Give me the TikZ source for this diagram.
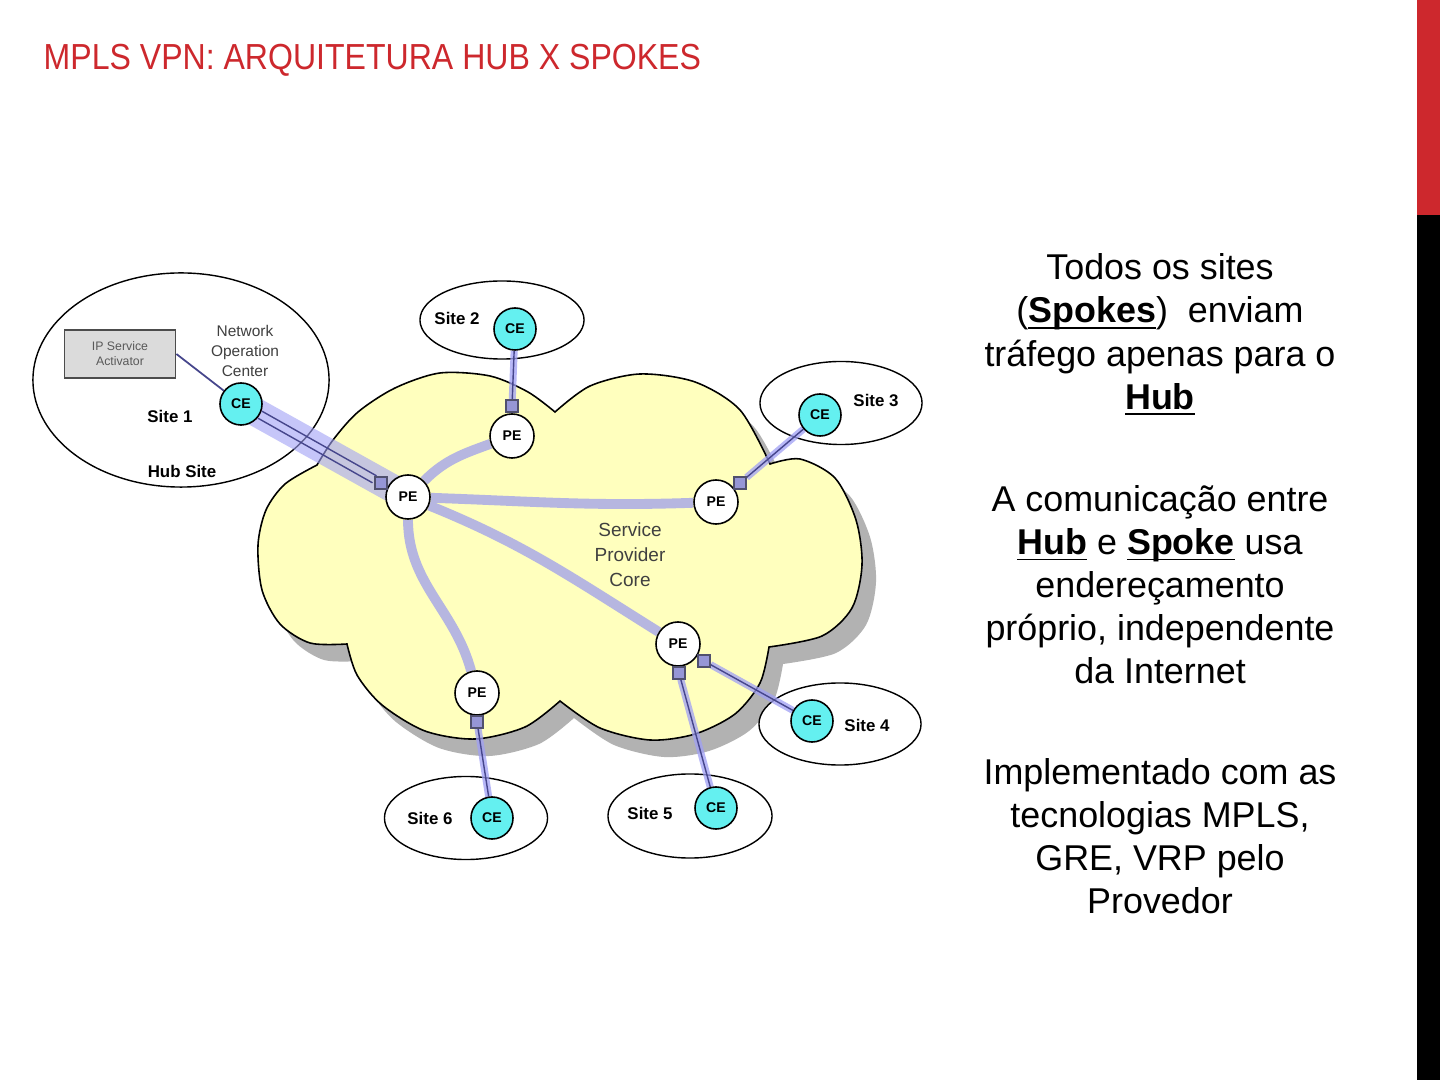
\documentclass[tikz,border=0pt]{standalone}
\usepackage{fontspec}
\setmainfont{Liberation Sans}
\newfontfamily\titlefont[FakeStretch=0.885]{Liberation Sans}
\usetikzlibrary{shapes.geometric,positioning}

\definecolor{titlered}{RGB}{205,40,45}
\definecolor{cloudyellow}{RGB}{255,255,190}
\definecolor{shadowgray}{RGB}{178,178,178}
\definecolor{coreblue}{RGB}{182,182,224}
\definecolor{glowblue}{RGB}{160,160,245}
\definecolor{linkdark}{RGB}{70,70,140}
\definecolor{cefill}{RGB}{100,240,240}
\definecolor{portfill}{RGB}{150,150,214}
\definecolor{portborder}{RGB}{80,80,110}

\pgfdeclarelayer{cloudlayer}
\pgfdeclarelayer{sitelayer}
\pgfdeclarelayer{linklayer}
\pgfsetlayers{cloudlayer,sitelayer,linklayer,main}

\newcommand{\ulword}[1]{\underline{\smash{\textbf{#1}}}}

\tikzset{
  ce/.style={circle, draw=black, line width=0.45pt, fill=cefill, minimum size=0.42cm, inner sep=0pt,
    font=\bfseries\fontsize{4}{4}\selectfont},
  pe/.style={circle, draw=black, line width=0.45pt, fill=white, minimum size=0.44cm, inner sep=0pt,
    font=\bfseries\fontsize{4}{4}\selectfont},
  port/.style={rectangle, draw=portborder, fill=portfill, minimum size=0.12cm, inner sep=0pt, line width=0.3pt},
  site/.style={ellipse, draw=black, fill=white, line width=0.4pt, inner sep=0pt},
  sitelabel/.style={font=\bfseries\fontsize{4.8}{5}\selectfont, inner sep=0pt},
  core/.style={draw=coreblue, line width=2.8pt},
  glow/.style={draw=glowblue, line width=2pt, opacity=0.75},
  band/.style={draw=glowblue, line width=8pt, opacity=0.6},
  access/.style={draw=linkdark, line width=0.4pt},
  bodytext/.style={align=center, font=\fontsize{10.2}{12.25}\selectfont, inner sep=0pt}
}

% cloud outline, in pixel units
\def\cloudpath{plot[smooth] coordinates {(317,-465) (333,-440) (358,-412) (395,-388) (440,-373) (490,-376) (528,-392) (555,-412)}
  -- plot[smooth] coordinates {(555,-412) (590,-386) (640,-374) (695,-382) (740,-410) (770,-464)}
  -- plot[smooth] coordinates {(770,-464) (800,-459) (835,-478) (856,-520) (862,-565) (852,-608) (822,-636) (769,-647)}
  -- plot[smooth] coordinates {(769,-647) (760,-683) (735,-714) (695,-734) (650,-740) (600,-728) (560,-701)}
  -- plot[smooth] coordinates {(560,-701) (525,-727) (475,-739) (425,-731) (382,-705) (357,-675) (347,-644)}
  -- plot[smooth] coordinates {(347,-644) (310,-643) (280,-624) (262,-590) (258,-545) (266,-510) (285,-484) (317,-465)}
  -- cycle}

\begin{document}
\begin{tikzpicture}[x=0.01cm, y=0.01cm]
  \useasboundingbox (0,0) rectangle (1440,-1080);

  % cloud
  \begin{pgfonlayer}{cloudlayer}
    \fill[white] (0,0) rectangle (1440,-1080);
    \fill[shadowgray, shift={(14,-17)}] \cloudpath;
    \filldraw[fill=cloudyellow, draw=black, line width=0.45pt] \cloudpath;
  \end{pgfonlayer}

  % side bar
  \fill[titlered] (1417,0) rectangle (1440,-215);
  \fill[black] (1417,-215) rectangle (1440,-1080);

  \node[anchor=base west, inner sep=0pt, text=titlered,
    font=\titlefont\fontsize{10.3}{12}\selectfont] (title) at (43,-70) {MPLS VPN: ARQUITETURA HUB X SPOKES};

  \node[align=center, text=black!75, font=\fontsize{5.4}{7.1}\selectfont] (spcore) at (630,-555) {Service\\Provider\\Core};

  % sites
  \begin{pgfonlayer}{sitelayer}
    \node[site, minimum width=2.96cm, minimum height=2.14cm] (site1) at (181,-380) {};
    \node[site, minimum width=1.64cm, minimum height=0.78cm] (site2) at (502,-320) {};
    \node[site, minimum width=1.62cm, minimum height=0.83cm] (site3) at (841,-403) {};
    \node[site, minimum width=1.62cm, minimum height=0.82cm] (site4) at (840,-724) {};
    \node[site, minimum width=1.64cm, minimum height=0.84cm] (site5) at (690,-816) {};
    \node[site, minimum width=1.63cm, minimum height=0.83cm] (site6) at (466,-818) {};
  \end{pgfonlayer}

  \node[draw=black!70, fill=black!14, line width=0.5pt, minimum width=1.11cm, minimum height=0.45cm,
    align=center, text=black!65, font=\fontsize{3.5}{4.3}\selectfont] (isa) at (120,-354) {IP Service\\Activator};
  \node[align=center, text=black!75, font=\fontsize{4.4}{5.7}\selectfont] (noc) at (245,-351) {Network\\Operation\\Center};
  \node[sitelabel] (lbl1) at (170,-416) {Site 1};
  \node[sitelabel] (hubsite) at (182,-471) {Hub Site};
  \node[sitelabel] (lbl2) at (457,-318) {Site 2};
  \node[sitelabel] (lbl3) at (876,-400) {Site 3};
  \node[sitelabel] (lbl4) at (867,-725) {Site 4};
  \node[sitelabel] (lbl5) at (650,-813) {Site 5};
  \node[sitelabel] (lbl6) at (430,-818) {Site 6};

  % routers
  \node[ce] (ce1) at (241,-404) {CE};
  \node[ce] (ce2) at (515,-329) {CE};
  \node[ce] (ce3) at (820,-415) {CE};
  \node[ce] (ce4) at (812,-721) {CE};
  \node[ce] (ce5) at (716,-808) {CE};
  \node[ce] (ce6) at (492,-818) {CE};

  \node[pe] (pehub) at (408,-497) {PE};
  \node[pe] (pe2) at (512,-436) {PE};
  \node[pe] (pe3) at (716,-502) {PE};
  \node[pe] (pe45) at (678,-644) {PE};
  \node[pe] (pe6) at (477,-693) {PE};

  \node[port] (sqhub) at (381,-483) {};
  \node[port] (sq2) at (512,-406) {};
  \node[port] (sq3) at (740,-483) {};
  \node[port] (sq4) at (704,-661) {};
  \node[port] (sq5) at (679,-673) {};
  \node[port] (sq6) at (477,-722) {};

  \begin{pgfonlayer}{linklayer}
    % core
    \draw[core] (pehub) to[out=45,in=200] (pe2);
    \draw[core] (pehub) to[out=-2,in=182] (pe3);
    \draw[core] (pehub) to[out=-22,in=148] (pe45);
    \draw[core] (pehub) to[out=-90,in=105] (pe6);
    % hub access
    \draw[band] (ce1.center) -- (pehub.center);
    \draw[access, transform canvas={shift={(2,3.5)}}] (ce1) -- (sqhub);
    \draw[access, transform canvas={shift={(-2,-3.5)}}] (ce1) -- (sqhub);
    \draw[access, line width=0.5pt] (isa.east) -- (ce1);
    % spoke access
    \draw[glow] (ce2) -- (sq2);  \draw[access] (ce2) -- (sq2);
    \draw[glow] (ce3) -- (sq3);  \draw[access] (ce3) -- (sq3);
    \draw[glow] (sq4) -- (ce4);  \draw[access] (sq4) -- (ce4);
    \draw[glow] (sq5) -- (ce5);  \draw[access] (sq5) -- (ce5);
    \draw[glow] (sq6) -- (ce6);  \draw[access] (sq6) -- (ce6);
  \end{pgfonlayer}

  % text
  \node[bodytext] (para1) at (1160,-335) {Todos os sites\\(\ulword{Spokes})\ \ enviam\\tráfego apenas para o\\\ulword{Hub}};
  \node[bodytext] (para2) at (1160,-585) {A comunicação entre\\\ulword{Hub} e \ulword{Spoke} usa\\endereçamento\\próprio, independente\\da Internet};
  \node[bodytext] (para3) at (1160,-836) {Implementado com as\\tecnologias MPLS,\\GRE, VRP pelo\\Provedor};
\end{tikzpicture}
\end{document}
